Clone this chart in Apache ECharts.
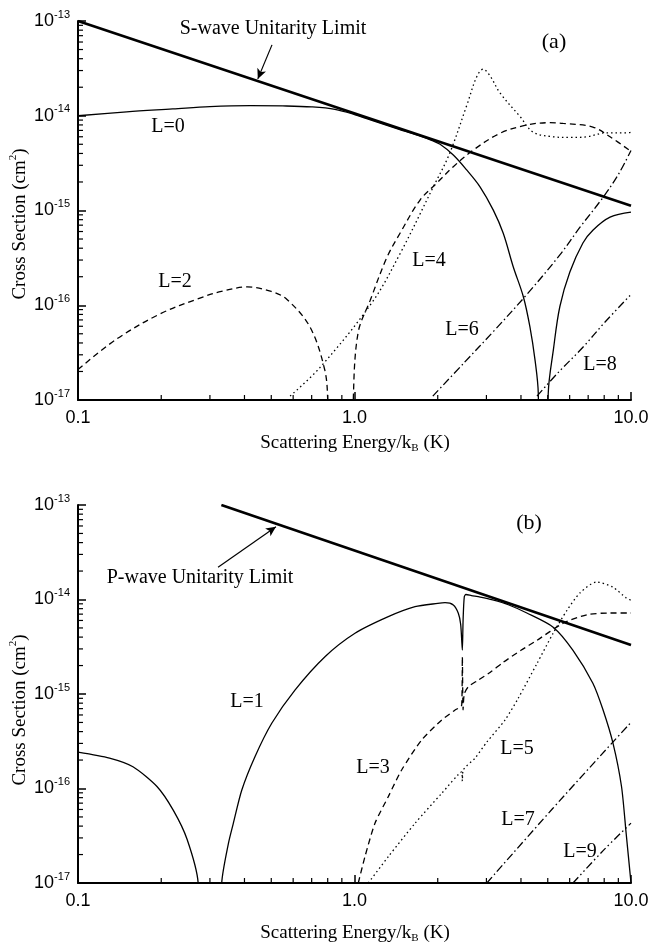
<!DOCTYPE html>
<html><head><meta charset="utf-8">
<script src="https://cdn.jsdelivr.net/npm/echarts@6/dist/echarts.min.js"></script>
<style>html,body{margin:0;padding:0;background:#fff}#c{width:652px;height:952px}</style>
</head><body><div id="c"></div>
<script>
// ---------- axis ticks ----------
const xTickValues = [0.1, 1, 10];
const xTickLabels = ['0.1', '1.0', '10.0'];
const yTickExponents = [-17, -16, -15, -14, -13];
const xDecades = [0.1, 1];
const yDecades = [1e-17, 1e-16, 1e-15, 1e-14];
const minorMults = [2, 3, 4, 5, 6, 7, 8, 9];

// ---------- panel (a) ----------
const sLimitE = [0.1, 10];
const sLimitS = [1.0e-13, 1.12e-15];

const L0_E = [0.1, 0.15, 0.22, 0.3, 0.42, 0.55, 0.7, 0.85, 1.0, 1.2, 1.45, 1.7, 1.9, 2.04, 2.277, 2.545, 2.844, 3.177, 3.451, 3.75, 4.08, 4.31, 4.5, 4.62, 4.7, 4.8, 4.92, 5.02, 5.24, 5.53, 6.01, 6.7, 7.28, 8.4, 10];
const L0_S = [1.0e-14, 1.1e-14, 1.18e-14, 1.25e-14, 1.28e-14, 1.27e-14, 1.24e-14, 1.17e-14, 1.03e-14, 8.6e-15, 7.2e-15, 6.2e-15, 5.5e-15, 5.0e-15, 3.85e-15, 2.68e-15, 1.78e-15, 1.01e-15, 5.75e-16, 2.55e-16, 1.23e-16, 5.9e-17, 2.6e-17, 1.18e-17, 1e-19, null, 1e-19, 1.18e-17, 3.4e-17, 9.7e-17, 2.24e-16, 4.54e-16, 6.2e-16, 8.5e-16, 9.6e-16];

const L2_E = [0.1, 0.138, 0.198, 0.276, 0.33, 0.41, 0.5, 0.57, 0.69, 0.78, 0.8, 0.84, 0.9, 0.96, 0.99, 1.03, 1.14, 1.31, 1.461, 1.726, 1.983, 2.277, 2.69, 3.36, 4.2, 5.09, 5.68, 7.28, 8.4, 10];
const L2_S = [2.1e-17, 4.4e-17, 8.1e-17, 1.19e-16, 1.4e-16, 1.56e-16, 1.4e-16, 1.15e-16, 5.9e-17, 2.1e-17, 1.0e-17, 1e-19, null, 1e-19, 1.0e-17, 5.1e-17, 1.13e-16, 3.2e-16, 5.75e-16, 1.29e-15, 1.94e-15, 2.9e-15, 4.35e-15, 6.53e-15, 7.99e-15, 8.45e-15, 8.3e-15, 7.6e-15, 6.0e-15, 4.2e-15];

const L4_E = [0.585, 0.75, 1.16, 1.461, 1.928, 2.2, 2.55, 2.77, 2.92, 3.1, 3.36, 3.97, 4.43, 5.23, 6.0, 6.93, 8.1, 9.6, 10];
const L4_S = [1.1e-17, 2.2e-17, 1.08e-16, 3.5e-16, 1.78e-15, 3.9e-15, 1.3e-14, 2.6e-14, 3.1e-14, 2.6e-14, 1.74e-14, 9.8e-15, 6.7e-15, 6.0e-15, 5.9e-15, 6.0e-15, 6.6e-15, 6.6e-15, 6.7e-15];

const L6_E = [1.92, 2.5, 3.2, 4.2, 5.53, 6.55, 7.93, 9.0, 10];
const L6_S = [1.1e-17, 2.5e-17, 5.4e-17, 1.3e-16, 3.4e-16, 6.7e-16, 1.38e-15, 2.4e-15, 4.3e-15];

const L8_E = [4.57, 5.5, 6.7, 8.0, 10];
const L8_S = [1.1e-17, 2.0e-17, 3.6e-17, 6.5e-17, 1.3e-16];

// ---------- panel (b) ----------
const pLimitE = [0.33, 10];
const pLimitS = [1.0e-13, 3.3e-15];

const L1_E = [0.1, 0.13, 0.158, 0.193, 0.221, 0.248, 0.272, 0.285, 0.3, 0.32, 0.331, 0.35, 0.3645, 0.391, 0.4365, 0.502, 0.609, 0.782, 1.004, 1.325, 1.655, 2.0, 2.125, 2.277, 2.374, 2.42, 2.442, 2.455, 2.47, 2.495, 2.53, 2.65, 2.85, 3.16, 3.6, 4.2, 5.23, 6.17, 7.28, 7.92, 8.61, 9.24, 9.6, 10];
const L1_S = [2.43e-16, 2.1e-16, 1.7e-16, 1.05e-16, 5.9e-17, 2.9e-17, 1.0e-17, 1e-19, null, 1e-19, 1.0e-17, 2.63e-17, 4.28e-17, 9.6e-17, 2.17e-16, 4.9e-16, 1.1e-15, 2.48e-15, 4.39e-15, 6.58e-15, 8.39e-15, 9.1e-15, 9.25e-15, 8.75e-15, 7.15e-15, 5.5e-15, 3.73e-15, 2.92e-15, 6.0e-15, 1.07e-14, 1.13e-14, 1.1e-14, 1.06e-14, 9.9e-15, 8.8e-15, 7.2e-15, 5.1e-15, 2.9e-15, 1.3e-15, 6.8e-16, 3.0e-16, 1.05e-16, 3.4e-17, 1.0e-17];

const L3_E = [1.032, 1.091, 1.186, 1.325, 1.481, 1.75, 2.068, 2.3, 2.442, 2.455, 2.47, 2.495, 2.58, 2.8, 3.1, 3.44, 4.0, 4.57, 5.68, 6.93, 8.4, 10];
const L3_S = [1.0e-17, 1.9e-17, 4.28e-17, 8.2e-17, 1.57e-16, 3.26e-16, 5.3e-16, 6.7e-16, 7.65e-16, 2.48e-15, 6.8e-16, 1.0e-15, 1.19e-15, 1.4e-15, 1.7e-15, 2.15e-15, 2.9e-15, 3.7e-15, 5.6e-15, 6.9e-15, 7.2e-15, 7.2e-15];

const L5_E = [1.122, 1.325, 1.655, 2.068, 2.442, 2.455, 2.47, 2.73, 3.01, 3.5, 3.9, 4.57, 5.23, 5.87, 6.55, 7.5, 8.6, 9.6, 10];
const L5_S = [1.0e-17, 1.9e-17, 4.28e-17, 8.9e-17, 1.5e-16, 1.2e-16, 1.55e-16, 2.1e-16, 3.1e-16, 5.3e-16, 8.9e-16, 2.1e-15, 4.4e-15, 7.7e-15, 1.18e-14, 1.53e-14, 1.35e-14, 1.04e-14, 9.8e-15];

const L7_E = [3.01, 5.2, 8.6, 10];
const L7_S = [1.0e-17, 6.1e-17, 3.1e-16, 5.0e-16];

const L9_E = [6.17, 7.93, 10];
const L9_S = [1.0e-17, 2.2e-17, 4.3e-17];

// ---------- helpers ----------
const SERIF = "'Liberation Serif', 'Times New Roman', serif";
const SANS = "'Liberation Sans', Arial, sans-serif";
const zip = (E, S) => E.map((e, i) => [e, S[i] === null ? '-' : S[i]]);

const DASH = [6, 4];
const DOT = [1.5, 3];
const DASHDOT = [8, 3, 1.5, 3];
const DASHDOTDOT = [8, 3, 1.5, 3, 1.5, 3];

function curve(gi, E, S, type, width, smooth, arrow) {
  const s = {
    type: 'line', xAxisIndex: gi, yAxisIndex: gi,
    data: zip(E, S), showSymbol: false, symbol: 'none',
    smooth: smooth, connectNulls: false, clip: true, silent: true,
    lineStyle: { color: '#000', width: width, type: type, cap: 'butt' }
  };
  if (arrow) {
    s.markLine = {
      silent: true, symbol: ['none', 'arrow'], symbolSize: [7, 10],
      label: { show: false },
      lineStyle: { color: '#000', width: 1.2, type: 'solid' },
      data: [[{ coord: arrow[0] }, { coord: arrow[1] }]]
    };
  }
  return s;
}

function minorTicks(gi) {
  const data = [];
  for (const d of yDecades) for (const m of minorMults) data.push([0.1, d * m, 1]);
  for (const d of xDecades) for (const m of minorMults) data.push([d * m, 1e-17, 0]);
  return {
    type: 'custom', xAxisIndex: gi, yAxisIndex: gi, silent: true, data: data, z: 5, clip: false,
    renderItem: (p, api) => {
      const pt = api.coord([api.value(0), api.value(1)]);
      const vert = api.value(2) === 0;
      return {
        type: 'line',
        shape: vert ? { x1: pt[0], y1: pt[1], x2: pt[0], y2: pt[1] - 5 }
                    : { x1: pt[0], y1: pt[1], x2: pt[0] + 5, y2: pt[1] },
        style: { stroke: '#000', lineWidth: 1.2 }
      };
    }
  };
}

function xAxis(gi) {
  return {
    type: 'log', gridIndex: gi, logBase: 10, min: xTickValues[0], max: xTickValues[2], splitNumber: 2,
    axisLine: { show: true, onZero: false, lineStyle: { color: '#000', width: 2 } },
    axisTick: { show: true, inside: true, length: 8, lineStyle: { color: '#000', width: 1.5 } },
    splitLine: { show: false }, minorTick: { show: false },
    axisLabel: {
      show: true, margin: 9, color: '#000', fontSize: 18, fontFamily: SANS,
      showMinLabel: true, showMaxLabel: true, hideOverlap: false,
      formatter: v => {
        const i = xTickValues.findIndex(t => Math.abs(Math.log10(t) - Math.log10(v)) < 1e-6);
        return i >= 0 ? xTickLabels[i] : '';
      }
    }
  };
}
function yAxis(gi) {
  return {
    type: 'log', gridIndex: gi, logBase: 10, min: 1e-17, max: 1e-13, splitNumber: 4,
    axisLine: { show: true, onZero: false, lineStyle: { color: '#000', width: 2 } },
    axisTick: { show: true, inside: true, length: 8, lineStyle: { color: '#000', width: 1.5 } },
    splitLine: { show: false }, minorTick: { show: false },
    axisLabel: {
      show: true, margin: 8, color: '#000', fontFamily: SANS,
      showMinLabel: true, showMaxLabel: true, hideOverlap: false,
      formatter: v => {
        const e = Math.round(Math.log10(v));
        return yTickExponents.includes(e) ? '{b|10}{s|' + e + '}' : '';
      },
      rich: {
        b: { fontSize: 18, fontFamily: SANS, color: '#000', lineHeight: 24 },
        s: { fontSize: 11, fontFamily: SANS, color: '#000', lineHeight: 12, verticalAlign: 'top' }
      }
    }
  };
}

function txt(x, y, text, size) {
  return {
    type: 'text', x: x, y: y, silent: true,
    style: { text: text, fill: '#000', font: size + 'px ' + SERIF, align: 'center', verticalAlign: 'middle' }
  };
}
function richTxt(x, y, text, rich, rotation) {
  return {
    type: 'text', x: x, y: y, rotation: rotation || 0, silent: true,
    style: { text: text, fill: '#000', align: 'center', verticalAlign: 'middle', rich: rich }
  };
}
const titleRichX = {
  a: { fontSize: 19, fontFamily: SERIF, color: '#000', lineHeight: 22 },
  b: { fontSize: 11, fontFamily: SERIF, color: '#000', lineHeight: 14, verticalAlign: 'bottom' }
};
const titleRichY = {
  a: { fontSize: 19, fontFamily: SERIF, color: '#000', lineHeight: 24 },
  s: { fontSize: 11, fontFamily: SERIF, color: '#000', lineHeight: 12, verticalAlign: 'top' }
};
const xTitle = '{a|Scattering Energy/k}{b|B}{a| (K)}';
const yTitle = '{a|Cross Section (cm}{s|2}{a|)}';

const SM = 0.35;
const chart = echarts.init(document.getElementById('c'), null, { renderer: 'canvas' });
chart.setOption({
  animation: false,
  backgroundColor: '#fff',
  grid: [
    { left: 78, top: 21, width: 553, height: 379, containLabel: false, outerBoundsMode: 'none' },
    { left: 78, top: 505, width: 553, height: 378, containLabel: false, outerBoundsMode: 'none' }
  ],
  xAxis: [xAxis(0), xAxis(1)],
  yAxis: [yAxis(0), yAxis(1)],
  series: [
    curve(0, sLimitE, sLimitS, 'solid', 2.6, false, [[0.503, 5.6e-14], [0.447, 2.45e-14]]),
    curve(0, L0_E, L0_S, 'solid', 1.3, SM),
    curve(0, L2_E, L2_S, DASH, 1.3, SM),
    curve(0, L4_E, L4_S, DOT, 1.3, SM),
    curve(0, L6_E, L6_S, DASHDOT, 1.3, SM),
    curve(0, L8_E, L8_S, DASHDOTDOT, 1.3, SM),
    minorTicks(0),
    curve(1, pLimitE, pLimitS, 'solid', 2.6, false, [[0.321, 2.2e-14], [0.52, 5.9e-14]]),
    curve(1, L1_E, L1_S, 'solid', 1.3, 0.25),
    curve(1, L3_E, L3_S, DASH, 1.3, 0.25),
    curve(1, L5_E, L5_S, DOT, 1.3, 0.25),
    curve(1, L7_E, L7_S, DASHDOT, 1.3, SM),
    curve(1, L9_E, L9_S, DASHDOTDOT, 1.3, SM),
    minorTicks(1)
  ],
  graphic: [
    txt(273, 29, 'S-wave Unitarity Limit', 20),
    txt(554, 42, '(a)', 22),
    txt(168, 127, 'L=0', 20),
    txt(175, 282, 'L=2', 20),
    txt(429, 261, 'L=4', 20),
    txt(462, 330, 'L=6', 20),
    txt(600, 365, 'L=8', 20),
    txt(200, 578, 'P-wave Unitarity Limit', 20),
    txt(529, 523, '(b)', 22),
    txt(247, 702, 'L=1', 20),
    txt(373, 768, 'L=3', 20),
    txt(517, 749, 'L=5', 20),
    txt(518, 820, 'L=7', 20),
    txt(580, 852, 'L=9', 20),
    richTxt(355, 443, xTitle, titleRichX),
    richTxt(355, 933, xTitle, titleRichX),
    richTxt(20, 224, yTitle, titleRichY, Math.PI / 2),
    richTxt(20, 710, yTitle, titleRichY, Math.PI / 2)
  ]
});
</script>
</body></html>
